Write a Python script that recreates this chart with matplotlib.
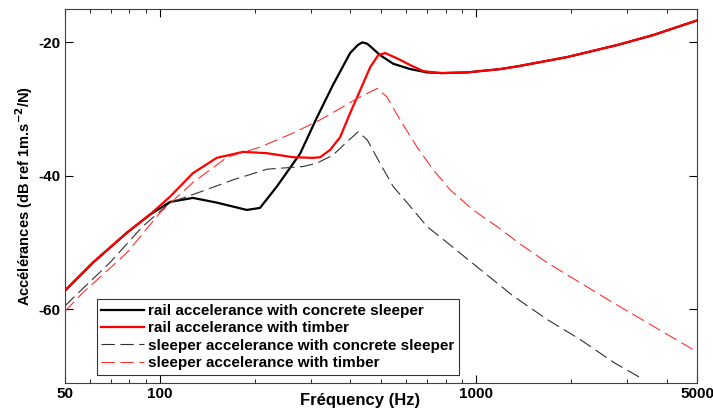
import matplotlib.pyplot as plt
from matplotlib.ticker import FixedLocator, NullFormatter

# values (frequency in Hz, level in dB)
rail_concrete_f = [50, 61.3, 78.6, 92.9, 107.6, 127, 151, 188, 207, 234, 263,
                   277, 313, 352, 399, 422, 436, 452, 470, 496, 546, 618, 699, 785,
                   935, 1191, 1347, 1939, 2790, 3630, 5000]
rail_concrete_db = [-57.2, -53.0, -48.5, -45.8, -43.9, -43.3, -44.0, -45.1, -44.8, -41.6,
                    -38.2, -36.7, -31.3, -26.4, -21.6, -20.4, -20.0, -20.2, -20.9, -21.9,
                    -23.2, -24.0, -24.5, -24.6, -24.5, -24.0, -23.6, -22.2, -20.4, -18.9,
                    -16.7]

rail_timber_f = [50, 61.3, 78.6, 92.9, 107.6, 127, 151, 183, 218, 263, 305,
                 321, 345, 371, 399, 429, 462, 490, 515, 562, 618, 679, 769,
                 935, 1191, 1347, 1939, 2790, 3630, 5000]
rail_timber_db = [-57.2, -53.0, -48.5, -45.8, -43.1, -39.6, -37.3, -36.4, -36.6, -37.2,
                  -37.3, -37.2, -36.1, -34.2, -30.6, -27.2, -23.7, -21.9, -21.6, -22.4,
                  -23.4, -24.3, -24.6, -24.5, -24.0, -23.6, -22.2, -20.4, -18.9, -16.7]

sleeper_concrete_f = [50, 53, 69.4, 88, 107.6, 134, 170, 218, 283, 313, 352, 390,
                      423, 452, 496, 546, 604, 699, 809, 1028, 1309, 1674, 2130,
                      2710, 3350]
sleeper_concrete_db = [-59.5, -58.3, -53.0, -47.6, -44.0, -42.4, -40.6, -39.0, -38.6,
                       -38.1, -36.9, -34.9, -33.4, -34.6, -38.1, -41.6, -44.0, -47.6,
                       -50.0, -54.0, -58.0, -61.5, -64.5, -67.9, -70.4]

sleeper_timber_f = [50, 57, 78.6, 100, 127, 163, 207, 263, 321, 371, 420, 486,
                    522, 574, 650, 731, 827, 977, 1164, 1376, 1674, 2130, 2710,
                    3475, 4420, 5000]
sleeper_timber_db = [-60.3, -57.5, -51.5, -45.5, -41.0, -37.2, -35.7, -33.6, -31.6,
                     -29.9, -28.4, -26.9, -28.2, -31.6, -35.7, -39.1, -42.1, -45.1,
                     -47.6, -50.2, -53.0, -56.0, -59.0, -62.0, -64.9, -66.4]

plt.rcParams['font.family'] = ['Liberation Sans', 'DejaVu Sans']
plt.rcParams['font.weight'] = 'bold'
plt.rcParams['axes.labelweight'] = 'bold'
plt.rcParams['axes.unicode_minus'] = False

fig = plt.figure(figsize=(7.13, 4.09), dpi=100)
ax = fig.add_axes([0.091, 0.064, 0.887, 0.914])

ax.plot(rail_concrete_f, rail_concrete_db, color='black', lw=1.6,
        label='rail accelerance with concrete sleeper')
ax.plot(rail_timber_f, rail_timber_db, color='#ff0000', lw=1.6,
        label='rail accelerance with timber')
ax.plot(sleeper_concrete_f, sleeper_concrete_db, color='#303030', lw=0.8,
        dashes=(12, 5), label='sleeper accelerance with concrete sleeper')
ax.plot(sleeper_timber_f, sleeper_timber_db, color='#ff3030', lw=0.8,
        dashes=(12, 5), label='sleeper accelerance with timber')

ax.set_xscale('log')
ax.set_xlim(50, 5000)
ax.set_ylim(-71, -15)

ax.xaxis.set_major_locator(FixedLocator([50, 100, 1000, 5000]))
ax.xaxis.set_major_formatter(plt.FuncFormatter(lambda v, p: '%d' % v))
ax.xaxis.set_minor_locator(FixedLocator([60, 70, 80, 90, 200, 300, 400, 500, 600, 700,
                                         800, 900, 2000, 3000, 4000]))
ax.xaxis.set_minor_formatter(NullFormatter())
ax.set_yticks([-60, -40, -20])

ax.tick_params(which='both', direction='in', top=True, right=True, labelsize=11)
ax.tick_params(which='major', length=6)
ax.tick_params(which='minor', length=3)
ax.tick_params(axis='x', pad=3)
for s in ax.spines.values():
    s.set_color('#404040')

ax.set_xlabel('Fréquency (Hz)', fontsize=12, va='top')
ax.xaxis.set_label_coords(0.467, -0.028)
ax.set_ylabel('Accélérances (dB ref 1m.s$^{-2}$/N)', fontsize=10.5, labelpad=2)

leg = ax.legend(loc='lower left', bbox_to_anchor=(0.05, 0.022), fontsize=11,
                frameon=True, fancybox=False, edgecolor='black', handlelength=2.8,
                borderpad=0.3, labelspacing=0.22, handletextpad=0.3, borderaxespad=0)
leg.get_frame().set_linewidth(0.8)

fig.savefig('out.png', dpi=100)
